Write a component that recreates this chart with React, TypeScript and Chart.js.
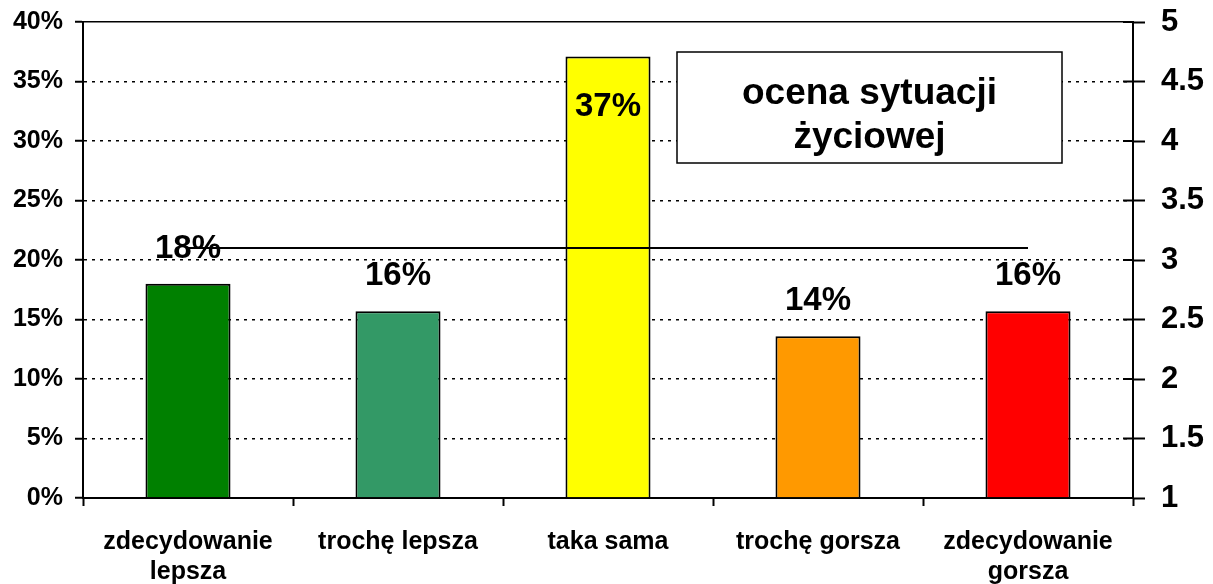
import React, { useEffect, useRef } from 'react';
import { Chart, registerables } from 'chart.js';

Chart.register(...registerables);

// ---- data ----
const categories: (string | string[])[] = [
  ['zdecydowanie', 'lepsza'],
  'trochę lepsza',
  'taka sama',
  'trochę gorsza',
  ['zdecydowanie', 'gorsza'],
];
const shares = [18.0, 15.7, 37.1, 13.6, 15.7];
const barColors = ['#008000', '#339966', '#FFFF00', '#FF9900', '#FF0000'];
const meanScore = [3.1, 3.1, 3.1, 3.1, 3.1];
const titleLines = ['ocena sytuacji', 'życiowej'];

const FONT = '"Liberation Sans", Arial, Helvetica, sans-serif';

const overlayPlugin = {
  id: 'overlay',
  afterDatasetsDraw(chart: any) {
    const ctx = chart.ctx;
    const area = chart.chartArea;
    // inner tick marks on right axis
    const y1 = chart.scales.y1;
    ctx.save();
    ctx.strokeStyle = '#000';
    ctx.lineWidth = 2;
    y1.ticks.forEach((t: any) => {
      const py = y1.getPixelForValue(t.value);
      ctx.beginPath();
      ctx.moveTo(y1.left - 10, py);
      ctx.lineTo(y1.left, py);
      ctx.stroke();
    });
    ctx.restore();

    // data labels
    const meta = chart.getDatasetMeta(0);
    ctx.save();
    ctx.font = `bold 33px ${FONT}`;
    ctx.fillStyle = '#000';
    ctx.textAlign = 'center';
    ctx.textBaseline = 'middle';
    meta.data.forEach((bar: any, i: number) => {
      let y = bar.y - 35;
      if (y < area.top + 30) y = bar.y + 50;
      ctx.fillText(Math.round(shares[i]) + '%', bar.x, y);
    });
    ctx.restore();

    // title box
    const bx = 677, by = 52, bw = 385, bh = 111;
    ctx.save();
    ctx.fillStyle = '#fff';
    ctx.fillRect(bx, by, bw, bh);
    ctx.strokeStyle = '#000';
    ctx.lineWidth = 1.5;
    ctx.strokeRect(bx, by, bw, bh);
    ctx.fillStyle = '#000';
    ctx.font = `bold 37px ${FONT}`;
    ctx.textAlign = 'center';
    ctx.textBaseline = 'middle';
    ctx.fillText(titleLines[0], bx + bw / 2, by + 42);
    ctx.fillText(titleLines[1], bx + bw / 2, by + 86);
    ctx.restore();
  },
};

export default function App() {
  const ref = useRef<HTMLCanvasElement>(null);
  useEffect(() => {
    if (!ref.current) return;
    const chart = new Chart(ref.current, {
      type: 'bar',
      data: {
        labels: categories as any,
        datasets: [
          {
            type: 'bar',
            data: shares,
            backgroundColor: barColors,
            borderColor: '#000',
            borderWidth: 2,
            categoryPercentage: 1,
            barPercentage: 0.405,
            yAxisID: 'y',
            order: 2,
          } as any,
          {
            type: 'line',
            data: meanScore,
            borderColor: '#000',
            borderWidth: 2,
            pointRadius: 0,
            yAxisID: 'y1',
            order: 1,
          } as any,
        ],
      },
      options: {
        animation: false,
        responsive: true,
        maintainAspectRatio: false,
        layout: { padding: { top: 22, left: 0, right: 0, bottom: 0 } },
        plugins: { legend: { display: false }, tooltip: { enabled: false } },
        scales: {
          x: {
            offset: true,
            grid: {
              offset: true,
              drawOnChartArea: false,
              tickLength: 8,
              tickColor: '#000',
              tickWidth: 2,
            },
            border: { color: '#000', width: 2 },
            ticks: {
              color: '#000',
              padding: 21,
              maxRotation: 0,
              autoSkip: false,
              font: { family: FONT, size: 25, weight: 'bold', lineHeight: 1.2 },
            },
            afterFit: (s: any) => { s.height = 86; s.paddingLeft = 0; s.paddingRight = 0; },
          },
          y: {
            position: 'left',
            min: 0,
            max: 40,
            ticks: {
              stepSize: 5,
              color: '#000',
              padding: 12,
              font: { family: FONT, size: 25, weight: 'bold' },
              callback: (v: any) => v + '%',
            },
            grid: {
              color: '#000',
              lineWidth: 1.5,
              tickLength: 8,
              tickColor: '#000',
              tickWidth: 2,
            },
            border: {
              color: '#000',
              width: 2,
              dash: (c: any) => (c.tick && c.tick.value === 40 ? [] : [3, 5]),
            },
            afterFit: (s: any) => { s.width = 83; s.paddingTop = 0; s.paddingBottom = 0; },
          },
          y1: {
            position: 'right',
            min: 1,
            max: 5,
            ticks: {
              stepSize: 0.5,
              color: '#000',
              padding: 16,
              font: { family: FONT, size: 31, weight: 'bold' },
              callback: (v: any) => String(v),
            },
            grid: {
              drawOnChartArea: false,
              tickLength: 12,
              tickColor: '#000',
              tickWidth: 2,
            },
            border: { color: '#000', width: 2 },
            afterFit: (s: any) => { s.width = 80; s.paddingTop = 0; s.paddingBottom = 0; },
          },
        },
      },
      plugins: [overlayPlugin],
    });
    return () => chart.destroy();
  }, []);

  return (
    <div style={{ position: 'fixed', left: 0, top: 0, width: 1213, height: 584, background: '#fff' }}>
      <canvas ref={ref} />
    </div>
  );
}
